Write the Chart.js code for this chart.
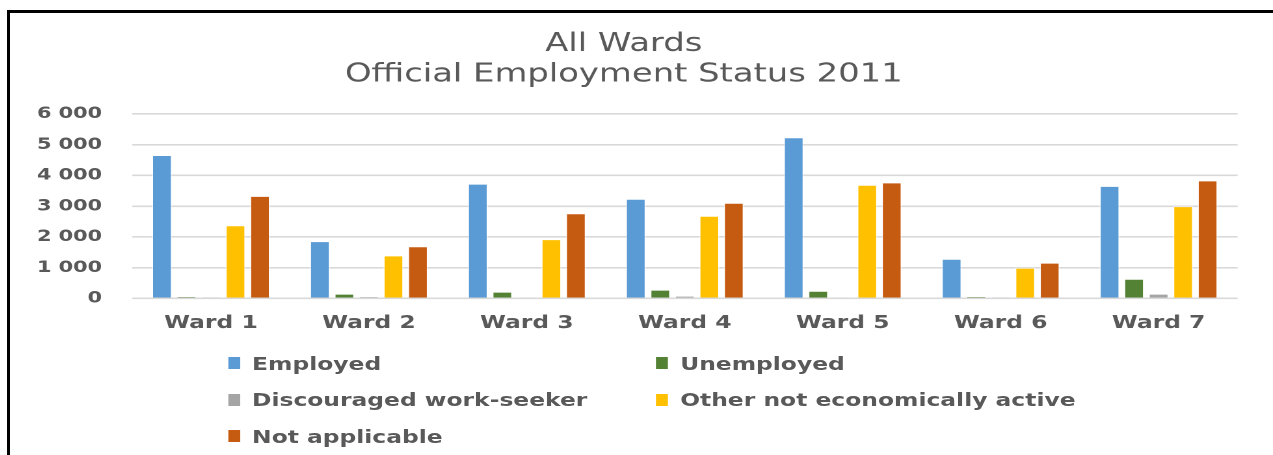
<!DOCTYPE html>
<html>
<head>
<meta charset="utf-8">
<script src="https://cdn.jsdelivr.net/npm/chart.js@4.4.1/dist/chart.umd.min.js"></script>
<style>
  html, body { margin: 0; padding: 0; background: #fff; }
  body { width: 1273px; height: 455px; position: relative; overflow: hidden; }
  /* black frame on the top and left, like the cropped screenshot */
  #frame {
    position: absolute; left: 7px; top: 10px; width: 1280px; height: 460px;
    border-top: 3px solid #000; border-left: 3px solid #000;
  }
  /* the reference is stretched sideways, so the whole chart is too */
  #stage {
    position: absolute; left: 10px; top: 0; width: 971.5px; height: 455px;
    transform: scaleX(1.3); transform-origin: 0 0;
  }
  #chartBox { position: relative; width: 100%; height: 348px; }
  #legend {
    position: absolute; left: 167.7px; top: 345px;
    display: grid; grid-template-columns: 329.3px auto; grid-auto-rows: 36.5px;
    font: bold 18px 'DejaVu Sans'; color: #595959;
  }
  #legend .item { display: flex; align-items: center; white-space: nowrap; }
  #legend .box { width: 9.5px; height: 12px; margin-right: 9px; }
</style>
</head>
<body>
<div id="frame"></div>
<div id="stage">
  <div id="chartBox"><canvas id="wards"></canvas></div>
  <div id="legend"></div>
</div>
<script>
// values
const wards = ['Ward 1', 'Ward 2', 'Ward 3', 'Ward 4', 'Ward 5', 'Ward 6', 'Ward 7'];
const employed = [4660, 1860, 3730, 3240, 5240, 1290, 3660];
const unemployed = [55, 155, 220, 285, 250, 55, 640];
const discouraged = [10, 55, 15, 90, 15, 10, 155];
const otherInactive = [2380, 1400, 1925, 2685, 3695, 1000, 3000];
const notApplicable = [3335, 1695, 2770, 3110, 3770, 1165, 3835];
const yTicks = [0, 1000, 2000, 3000, 4000, 5000, 6000];

const seriesNames = ['Employed', 'Unemployed', 'Discouraged work-seeker', 'Other not economically active', 'Not applicable'];
const seriesColors = ['#5B9BD5', '#548235', '#A5A5A5', '#FFC000', '#C55A11'];
const seriesData = [employed, unemployed, discouraged, otherInactive, notApplicable];

const grey = '#595959';

function spaced(v) {
    return String(v).replace(/\B(?=(\d{3})+(?!\d))/g, ' ');
}

const ctx = document.getElementById('wards').getContext('2d');
const chart = new Chart(ctx, {
    type: 'bar',
    data: {
        labels: wards,
        datasets: seriesNames.map((name, i) => ({
            label: name,
            data: seriesData[i],
            backgroundColor: seriesColors[i],
            borderColor: 'rgba(255, 255, 255, 0.5)',
            borderWidth: 1,
            categoryPercentage: 0.776,
            barPercentage: 0.83
        }))
    },
    options: {
        responsive: true,
        maintainAspectRatio: false,
        animation: false,
        devicePixelRatio: 2,
        layout: { padding: { left: 0, right: 27.7, top: 0, bottom: 0 } },
        plugins: {
            legend: { display: false },
            tooltip: { enabled: false },
            title: {
                display: true,
                text: ['All Wards', 'Official Employment Status 2011'],
                color: grey,
                font: { family: 'DejaVu Sans', size: 26, weight: 'normal', lineHeight: 1.17 },
                padding: { top: 29, bottom: 24 }
            }
        },
        scales: {
            x: {
                grid: { display: false, drawTicks: false },
                border: { display: false },
                ticks: {
                    color: grey,
                    padding: 14,
                    font: { family: 'DejaVu Sans', size: 18, weight: 'bold' }
                }
            },
            y: {
                min: 0,
                max: 6000,
                afterBuildTicks: (scale) => { scale.ticks = yTicks.map(v => ({ value: v })); },
                afterFit: (scale) => { scale.width = 93.8; },
                grid: { color: '#D9D9D9', lineWidth: 1.6, drawTicks: false },
                border: { display: false },
                ticks: {
                    color: grey,
                    padding: 23,
                    font: { family: 'DejaVu Sans', size: 16, weight: 'bold' },
                    callback: (value) => spaced(value)
                }
            }
        }
    }
});

// legend laid out as Excel does it: two aligned columns
const legendEl = document.getElementById('legend');
chart.data.datasets.forEach(ds => {
    const item = document.createElement('div');
    item.className = 'item';
    const box = document.createElement('span');
    box.className = 'box';
    box.style.background = ds.backgroundColor;
    const text = document.createElement('span');
    text.textContent = ds.label;
    item.appendChild(box);
    item.appendChild(text);
    legendEl.appendChild(item);
});
</script>
</body>
</html>
